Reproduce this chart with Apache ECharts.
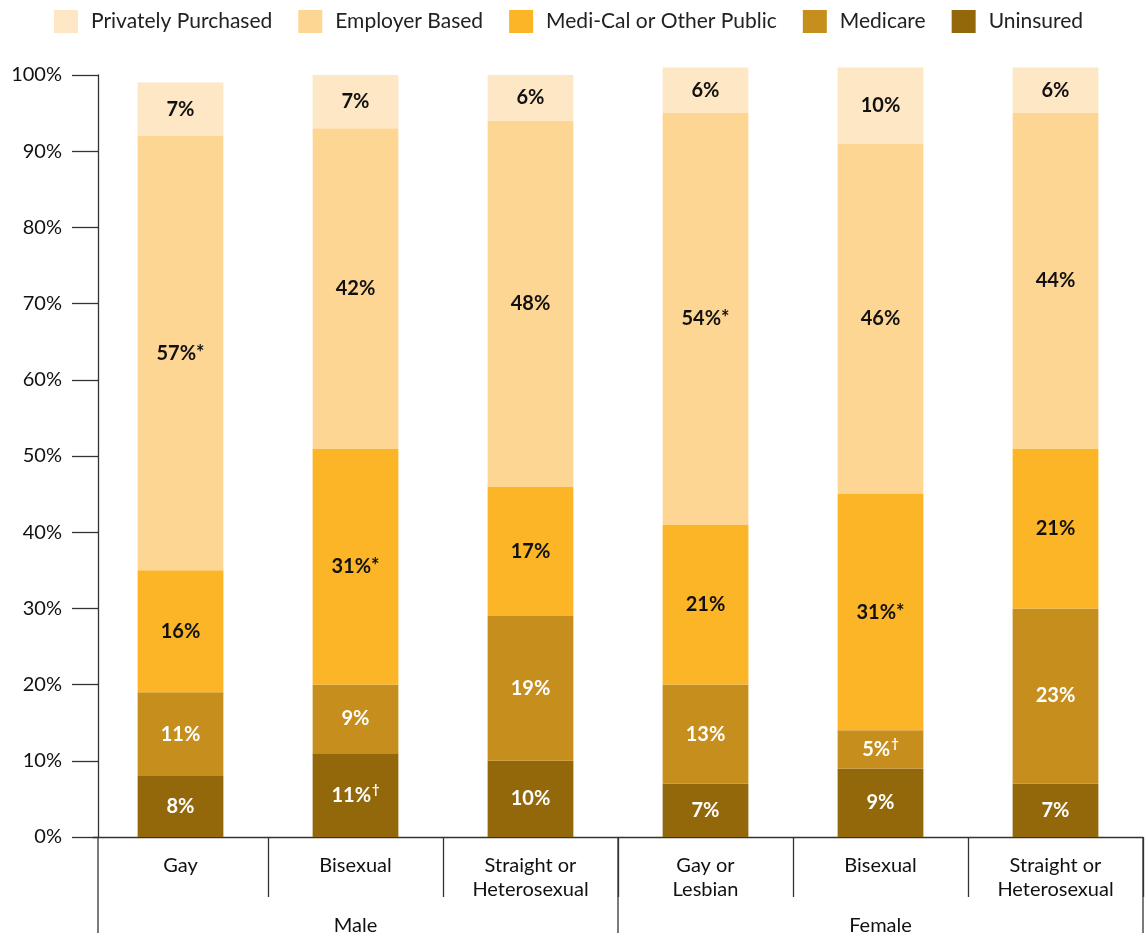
<!DOCTYPE html>
<html>
<head>
<meta charset="utf-8">
<script src="https://cdn.jsdelivr.net/npm/echarts@6/dist/echarts.min.js"></script>
<style>
  html, body { margin: 0; padding: 0; background: #ffffff; }
  #chart { width: 1148px; height: 938px; }
</style>
</head>
<body>
<div id="chart"></div>
<script>
// Health insurance coverage by sexual orientation and sex (percent of adults)
const categories = ['Gay', 'Bisexual', 'Straight or\nHeterosexual', 'Gay or\nLesbian', 'Bisexual', 'Straight or\nHeterosexual'];
const groups = ['Male', 'Female'];

const seriesNames = ['Uninsured', 'Medicare', 'Medi-Cal or Other Public', 'Employer Based', 'Privately Purchased'];
const uninsured = [8, 11, 10, 7, 9, 7];
const medicare = [11, 9, 19, 13, 5, 23];
const mediCal = [16, 31, 17, 21, 31, 21];
const employer = [57, 42, 48, 54, 46, 44];
const privately = [7, 7, 6, 6, 10, 6];

// significance markers printed after the values
const uninsuredNotes = ['', '†', '', '', '', ''];
const medicareNotes = ['', '', '', '', '†', ''];
const mediCalNotes = ['', '*', '', '', '*', ''];
const employerNotes = ['*', '', '', '*', '', ''];
const privatelyNotes = ['', '', '', '', '', ''];

const yTicks = [0, 10, 20, 30, 40, 50, 60, 70, 80, 90, 100];

const colors = ['#93680b', '#c68e1d', '#fbb526', '#fed694', '#fee7c4'];
const labelColors = ['#ffffff', '#ffffff', '#111111', '#111111', '#111111'];
const seriesValues = [uninsured, medicare, mediCal, employer, privately];
const seriesNotes = [uninsuredNotes, medicareNotes, mediCalNotes, employerNotes, privatelyNotes];

const FONT = 'Lato';
const GRID_LEFT = 93, GRID_RIGHT = 5, GRID_TOP = 75, GRID_BOTTOM = 98;
const Y_OFFSET = -5;
const LINE = '#333333';

const chart = echarts.init(document.getElementById('chart'), null, { renderer: 'canvas' });

function makeSeries(idx) {
  const notes = seriesNotes[idx];
  const col = labelColors[idx];
  return {
    name: seriesNames[idx],
    type: 'bar',
    stack: 'total',
    xAxisIndex: 0,
    barWidth: '49%',
    clip: false,
    itemStyle: { color: colors[idx] },
    emphasis: { disabled: true },
    data: seriesValues[idx],
    label: {
      show: true,
      position: 'inside',
      formatter: (p) => {
        const n = notes[p.dataIndex];
        if (n === '†') return '{v|' + p.value + '%}{s|†}';
        return '{v|' + p.value + '%' + n + '}';
      },
      rich: {
        v: { fontFamily: FONT, fontWeight: 'bold', fontSize: 20, color: col },
        s: { fontFamily: FONT, fontWeight: 'bold', fontSize: 13, color: col, padding: [0, 0, 11, 1] }
      }
    }
  };
}

const option = {
  animation: false,
  backgroundColor: '#ffffff',
  textStyle: { fontFamily: FONT },
  legend: {
    data: seriesNames.slice().reverse(),
    top: 5,
    left: 49,
    icon: 'rect',
    itemWidth: 24,
    itemHeight: 23,
    itemGap: 26,
    selectedMode: false,
    textStyle: { fontFamily: FONT, fontSize: 21, color: '#222222', padding: [0, 0, 0, 8] }
  },
  grid: { left: GRID_LEFT, right: GRID_RIGHT, top: GRID_TOP, bottom: GRID_BOTTOM, containLabel: false },
  xAxis: [
    {
      type: 'category',
      data: categories,
      position: 'bottom',
      axisLine: { show: true, lineStyle: { color: LINE, width: 1.3 } },
      axisTick: {
        show: true,
        length: 60,
        interval: (i) => i !== 0,
        lineStyle: { color: LINE, width: 1.3 }
      },
      axisLabel: {
        interval: 0,
        margin: 17,
        fontFamily: FONT,
        fontSize: 20,
        lineHeight: 24,
        color: '#111111'
      }
    },
    {
      type: 'category',
      data: groups,
      position: 'bottom',
      axisLine: { show: false },
      axisTick: { show: false },
      axisLabel: {
        interval: 0,
        margin: 77,
        fontFamily: FONT,
        fontSize: 20,
        lineHeight: 24,
        color: '#111111'
      }
    }
  ],
  yAxis: {
    type: 'value',
    min: yTicks[0],
    max: yTicks[yTicks.length - 1],
    interval: yTicks[1] - yTicks[0],
    offset: Y_OFFSET,
    splitLine: { show: false },
    axisLine: { show: true, lineStyle: { color: LINE, width: 1.3 } },
    axisTick: { show: true, length: 26, lineStyle: { color: LINE, width: 1.3 } },
    axisLabel: {
      margin: 36,
      fontFamily: FONT,
      fontSize: 20,
      color: '#111111',
      formatter: '{value}%'
    }
  },
  series: seriesNames.map((_, i) => makeSeries(i))
};

chart.setOption(option);

// Long dividers that separate the Male and Female groups, drawn through the category scale
function drawGroupDividers() {
  const x2 = chart.convertToPixel({ xAxisIndex: 0 }, 2);
  const x3 = chart.convertToPixel({ xAxisIndex: 0 }, 3);
  const x5 = chart.convertToPixel({ xAxisIndex: 0 }, 5);
  const step = x3 - x2;
  const yZero = chart.convertToPixel({ yAxisIndex: 0 }, 0);
  const yEnd = 933;
  const xs = [GRID_LEFT - Y_OFFSET, (x2 + x3) / 2, x5 + step / 2];
  chart.setOption({
    graphic: xs.map((x) => ({
      type: 'line',
      shape: { x1: x, y1: yZero, x2: x, y2: yEnd },
      style: { stroke: LINE, lineWidth: 1.3 },
      silent: true
    }))
  });
}
drawGroupDividers();
</script>
</body>
</html>
